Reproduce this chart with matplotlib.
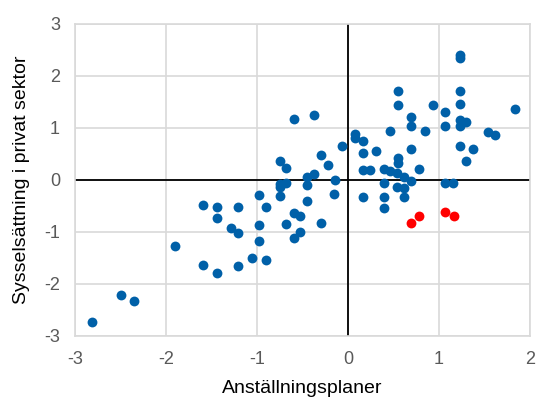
import numpy as np
import matplotlib
matplotlib.use("Agg")
import matplotlib.pyplot as plt

plt.rcParams['font.family'] = ['Liberation Sans', 'DejaVu Sans']
plt.rcParams['axes.unicode_minus'] = False

# blue points: hiring plans vs private sector employment
x_blue = [-2.81, -2.50, -2.35, -1.90, -1.59, -1.44, -1.44, -1.21, -1.29, -1.21,
          -0.98, -0.90, -0.98, -0.98, -1.06, -0.90, -1.59, -1.44, -1.21, -0.75,
          -0.68, -0.75, -0.75, -0.60, -0.53, -0.68, -0.60, -0.53, -0.75, -0.68,
          -0.60, -0.37, -0.07, -0.30, -0.22, -0.45, -0.37, -0.14, -0.45, -0.45,
          -0.15, -0.30,
          1.23, 1.23, 0.55, 1.23, 0.55, 0.93, 1.23, 1.84, 1.07, 0.69,
          0.69, 1.23, 1.30, 1.23, 1.07, 0.85, 0.46, 1.54, 1.61, 0.08,
          0.08, 0.16, 1.23, 1.37, 0.69, 0.31, 0.16, 1.30, 0.55, 0.55,
          0.78, 0.16, 0.24, 0.39, 0.46, 0.54, 0.62, 0.69, 0.39, 1.07,
          1.15, 0.54, 0.62, 0.16, 0.39, 0.62, 0.39]
y_blue = [-2.73, -2.21, -2.33, -1.27, -0.48, -0.53, -0.73, -0.53, -0.93, -1.03,
          -0.29, -0.53, -0.87, -1.18, -1.50, -1.54, -1.65, -1.79, -1.67, -0.08,
          -0.06, -0.14, -0.31, -0.64, -0.70, -0.85, -1.12, -1.01, 0.35, 0.23,
          1.17, 1.25, 0.64, 0.47, 0.29, 0.06, 0.10, 0.00, -0.11, -0.42,
          -0.27, -0.83,
          2.40, 2.34, 1.71, 1.71, 1.43, 1.44, 1.46, 1.35, 1.30, 1.20,
          1.04, 1.14, 1.10, 1.04, 1.04, 0.94, 0.94, 0.92, 0.85, 0.87,
          0.80, 0.74, 0.65, 0.59, 0.59, 0.56, 0.51, 0.35, 0.42, 0.32,
          0.21, 0.19, 0.19, 0.21, 0.16, 0.12, 0.06, -0.02, -0.06, -0.07,
          -0.07, -0.15, -0.16, -0.34, -0.33, -0.34, -0.54]

# red points (latest observations)
x_red = [0.69, 0.78, 1.07, 1.16]
y_red = [-0.83, -0.69, -0.62, -0.70]

fig = plt.figure(figsize=(5.37, 4.01), dpi=100)
ax = fig.add_axes([0.14, 0.163, 0.847, 0.778])

ax.scatter(x_blue, y_blue, s=50, color='#0060a8', zorder=3, linewidths=0)
ax.scatter(x_red, y_red, s=50, color='#ff0000', zorder=4, linewidths=0)

ax.axhline(0, color='black', linewidth=1.3, zorder=2)
ax.axvline(0, color='black', linewidth=1.3, zorder=2)

ax.set_xlim(-3, 2)
ax.set_ylim(-3, 3)
ax.set_xticks(np.arange(-3, 3, 1))
ax.set_yticks(np.arange(-3, 4, 1))
ax.grid(True, color='#d9d9d9', linewidth=1.2, zorder=0)
for sp in ax.spines.values():
    sp.set_color('#d9d9d9')
    sp.set_linewidth(1.2)
ax.tick_params(length=0, labelsize=13, labelcolor='#595959', pad=11)

ax.set_xlabel("Anställningsplaner", fontsize=14, labelpad=9)
ax.set_ylabel("Sysselsättning i privat sektor", fontsize=14, labelpad=10)

fig.savefig('out.png', dpi=100)
